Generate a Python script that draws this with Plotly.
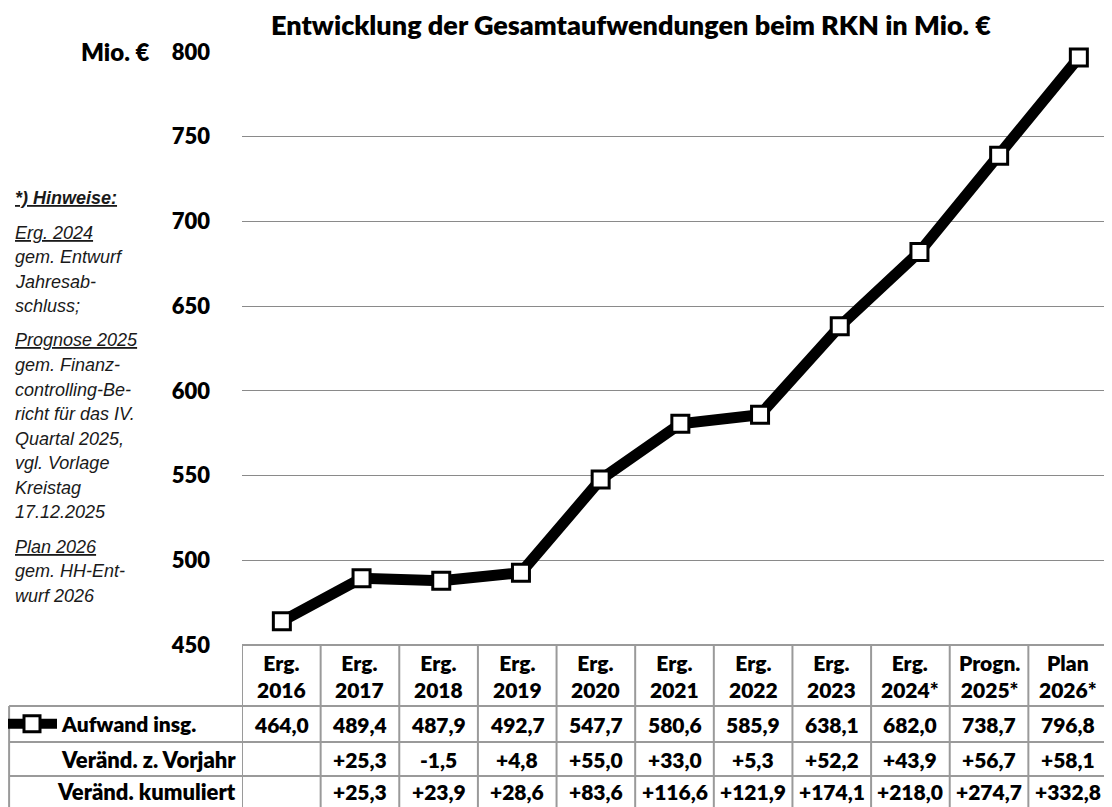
import plotly.graph_objects as go

# ---- data ----
col_labels = ["Erg.<br>2016", "Erg.<br>2017", "Erg.<br>2018", "Erg.<br>2019", "Erg.<br>2020",
              "Erg.<br>2021", "Erg.<br>2022", "Erg.<br>2023", "Erg.<br>2024*", "Progn.<br>2025*",
              "Plan<br>2026*"]
aufwand = [464.0, 489.4, 487.9, 492.7, 547.7, 580.6, 585.9, 638.1, 682.0, 738.7, 796.8]
veraend_vorjahr = ["", "+25,3", "-1,5", "+4,8", "+55,0", "+33,0", "+5,3", "+52,2", "+43,9", "+56,7", "+58,1"]
veraend_kumuliert = ["", "+25,3", "+23,9", "+28,6", "+83,6", "+116,6", "+121,9", "+174,1", "+218,0",
                     "+274,7", "+332,8"]
row_labels = ["Aufwand insg.", "Veränd. z. Vorjahr", "Veränd. kumuliert"]
title_text = "Entwicklung der Gesamtaufwendungen beim RKN in Mio. €"
unit_text = "Mio. €"
notes = [
    ("<b><i><u>*) Hinweise:</u></i></b>", 0),
    ("<i><u>Erg. 2024</u></i>", 1), ("<i>gem. Entwurf</i>", 0), ("<i>Jahresab-</i>", 0), ("<i>schluss;</i>", 0),
    ("<i><u>Prognose 2025</u></i>", 1), ("<i>gem. Finanz-</i>", 0), ("<i>controlling-Be-</i>", 0),
    ("<i>richt für das IV.</i>", 0), ("<i>Quartal 2025,</i>", 0), ("<i>vgl. Vorlage</i>", 0),
    ("<i>Kreistag</i>", 0), ("<i>17.12.2025</i>", 0),
    ("<i><u>Plan 2026</u></i>", 1), ("<i>gem. HH-Ent-</i>", 0), ("<i>wurf 2026</i>", 0),
]

# page body has an 8px default margin -> figure sits at (8, 8)
OFF = 8
W, H = 1112 - OFF, 807 - OFF
FONT = "Lato"
WT = 800
def py(px):  # screenshot pixel y -> paper
    return 1 - (px - OFF) / H
def pxx(px):  # screenshot pixel x -> paper
    return (px - OFF) / W

n = len(aufwand)
x_idx = list(range(n))
dom_x = [pxx(242), pxx(1107)]
dom_y = [py(645), py(52)]

fig = go.Figure()
fig.add_trace(go.Scatter(
    x=x_idx, y=aufwand, mode="lines+markers", name="Aufwand insg.",
    line=dict(color="black", width=11),
    marker=dict(symbol="square", size=17, color="white", line=dict(color="black", width=3)),
    showlegend=True, hoverinfo="skip", cliponaxis=False))

grid = "#8a8a8a"
tbl = "#9a9a9a"
shapes = []
y_head_top, y_head_bot, y_r1, y_r2 = 645, 706, 742, 776
for i in range(n + 1):
    shapes.append(dict(type="line", xref="x2", yref="paper", x0=i - 0.5, x1=i - 0.5,
                       y0=0, y1=py(y_head_top), line=dict(color=tbl, width=2)))
shapes.append(dict(type="line", xref="paper", yref="paper", x0=0.001, x1=0.001,
                   y0=0, y1=py(y_head_bot), line=dict(color=tbl, width=2)))
shapes.append(dict(type="line", xref="paper", yref="paper", x0=dom_x[0], x1=dom_x[1],
                   y0=py(y_head_top), y1=py(y_head_top), line=dict(color=tbl, width=2)))
for yy in (y_head_bot, y_r1, y_r2):
    shapes.append(dict(type="line", xref="paper", yref="paper", x0=0.001, x1=dom_x[1],
                       y0=py(yy), y1=py(yy), line=dict(color=tbl, width=2)))

ann = []
tfont = dict(family=FONT, size=21, color="black", weight=WT)
row_c = [724, 759, 791]
for i, lab in enumerate(col_labels):
    ann.append(dict(x=i, y=py((y_head_top + y_head_bot) / 2), xref="x2", yref="paper", text=lab,
                    xanchor="center", yanchor="middle", showarrow=False, font=tfont, align="center"))
    vals = [f"{aufwand[i]:.1f}".replace(".", ","), veraend_vorjahr[i], veraend_kumuliert[i]]
    for r, v in enumerate(vals):
        if v:
            ann.append(dict(x=i, y=py(row_c[r]), xref="x2", yref="paper", text=v,
                            xanchor="center", yanchor="middle", showarrow=False, font=tfont))
for r in (1, 2):
    ann.append(dict(x=pxx(238), y=py(row_c[r]), xref="paper", yref="paper", text=row_labels[r],
                    xanchor="right", yanchor="middle", showarrow=False,
                    font=dict(family=FONT, size=22, color="black", weight=WT)))

ann.append(dict(x=pxx(152), y=py(52), xref="paper", yref="paper", text=unit_text, xanchor="right",
                yanchor="middle", showarrow=False,
                font=dict(family=FONT, size=24, color="black", weight=WT)))

# notes
ny = 198
for k, (t, gap) in enumerate(notes):
    if k > 0:
        ny += 24.5 + (10 if gap else 0)
    ann.append(dict(x=pxx(13), y=py(ny), xref="paper", yref="paper", text=t, xanchor="left",
                    yanchor="middle", showarrow=False,
                    font=dict(family="Liberation Sans, Arial", size=18, color="#1a1a1a")))

# chart categories are spaced slightly wider than the table columns (as in the original)
line_range_max = (1107 - 242) / 79.7 - 0.5

fig.update_layout(
    width=W, height=H, margin=dict(l=0, r=0, t=0, b=0, autoexpand=False),
    paper_bgcolor="white", plot_bgcolor="white",
    title=dict(text=title_text, x=pxx(631), xanchor="center", y=py(26), yanchor="middle",
               font=dict(family=FONT, size=27, color="black", weight=WT)),
    xaxis=dict(domain=dom_x, range=[-0.5, line_range_max], showgrid=False, zeroline=False,
               showticklabels=False, showline=False, fixedrange=True, automargin=False),
    xaxis2=dict(domain=dom_x, range=[-0.5, n - 0.5], overlaying="x", anchor="y", showgrid=False,
                zeroline=False, showticklabels=False, showline=False, fixedrange=True, automargin=False),
    yaxis=dict(domain=dom_y, range=[450, 800], dtick=50, showgrid=True, gridcolor=grid, gridwidth=1.3,
               zeroline=False, showline=False, ticks="", ticklabelstandoff=31, automargin=False,
               tickfont=dict(family=FONT, size=22, color="black", weight=WT)),
    legend=dict(x=pxx(2), y=py(724), xanchor="left", yanchor="middle", bgcolor="rgba(0,0,0,0)",
                itemwidth=50,
                font=dict(family=FONT, size=21, color="black", weight=WT)),
    shapes=shapes, annotations=ann,
)
fig.write_html("out.html")
